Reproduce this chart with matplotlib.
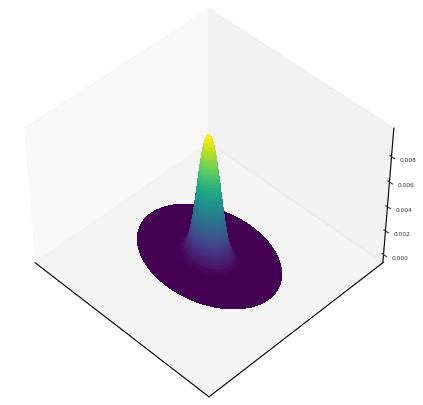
import matplotlib

matplotlib.use("Agg")

import matplotlib.pyplot as plt
import numpy as np

# radial profile (disk of radius 1), one ring per height step
radius = [0.0, 0.033, 0.046, 0.056, 0.065, 0.073, 0.081, 0.087, 0.094, 0.099, 0.105, 0.110, 0.116, 0.121,
          0.125, 0.131, 0.135, 0.140, 0.145, 0.150, 0.154, 0.158, 0.163, 0.168, 0.173, 0.177, 0.182, 0.187,
          0.191, 0.195, 0.200, 0.205, 0.211, 0.215, 0.221, 0.226, 0.233, 0.238, 0.245, 0.252, 0.260, 0.267,
          0.276, 0.286, 0.297, 0.310, 0.326, 0.348, 0.382, 0.414, 0.451, 0.52, 0.80, 1.0]
height = [0.0098, 0.0096, 0.0094, 0.0092, 0.0090, 0.0088, 0.0086, 0.0084, 0.0082, 0.0080, 0.0078, 0.0076,
          0.0074, 0.0072, 0.0070, 0.0068, 0.0066, 0.0064, 0.0062, 0.0060, 0.0058, 0.0056, 0.0054, 0.0052,
          0.0050, 0.0048, 0.0046, 0.0044, 0.0042, 0.0040, 0.0038, 0.0036, 0.0034, 0.0032, 0.0030, 0.0028,
          0.0026, 0.0024, 0.0022, 0.0020, 0.0018, 0.0016, 0.0014, 0.0012, 0.0010, 0.0008, 0.0006, 0.0004,
          0.0002, 0.0001, 0.00004, 0.0, 0.0, 0.0]
z_ticks = [0.000, 0.002, 0.004, 0.006, 0.008]

fig = plt.figure(figsize=(4.23, 4.06), dpi=100)
ax = fig.add_axes([-8 / 423, -1 / 406, 1, 1], projection="3d")

theta = np.radians(np.arange(0, 361, 3))
R, T = np.meshgrid(radius, theta)
Z = np.tile(height, (len(theta), 1))
ax.plot_surface(R * np.cos(T), R * np.sin(T), Z, cmap="viridis", linewidth=0, antialiased=False,
                rcount=Z.shape[0], ccount=Z.shape[1])

ax.set_xlim(-1.489, 1.471)
ax.set_ylim(-2.087, 2.113)
ax.set_zlim(-0.0007, 0.0102)
ax.set_box_aspect((4, 4, 3), zoom=0.97)
ax.view_init(elev=45, azim=-45)
ax.set_xticks([])
ax.set_yticks([])
ax.set_zticks(z_ticks)
ax.set_zticklabels([f"{v:.3f}" for v in z_ticks])
ax.tick_params(axis="z", labelsize=4.2, pad=-1, colors="#333333")
ax.grid(False)

fig.savefig("out.png", dpi=100)
